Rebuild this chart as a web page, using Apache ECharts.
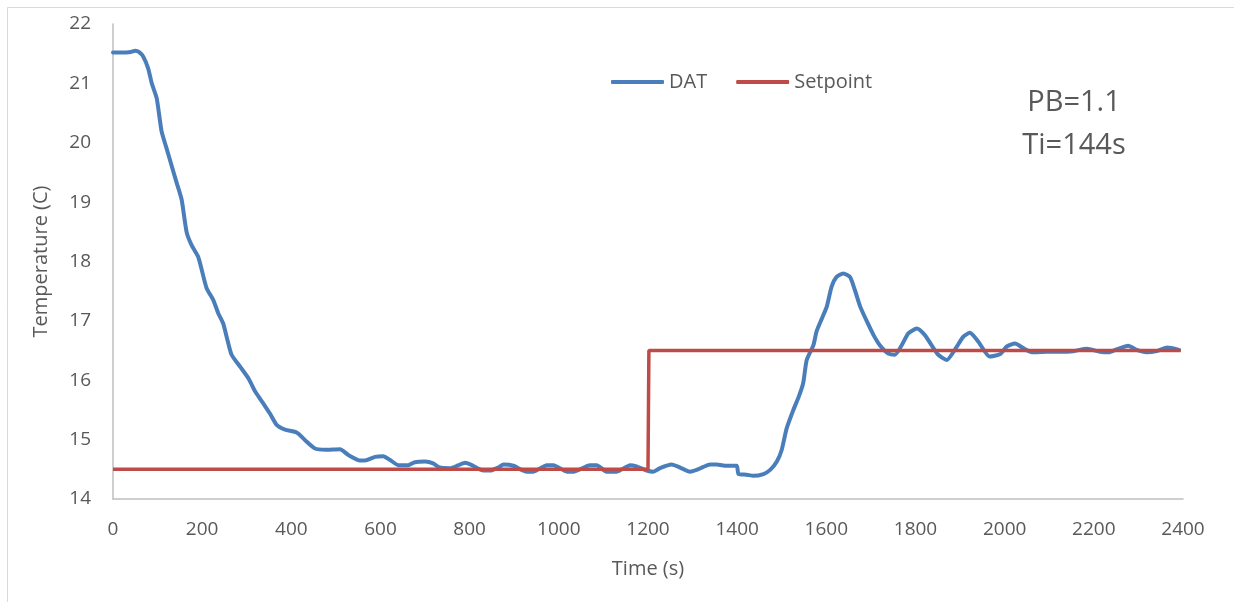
<!DOCTYPE html>
<html>
<head>
<meta charset="utf-8">
<title>DAT response</title>
<script src="https://cdn.jsdelivr.net/npm/echarts@6/dist/echarts.min.js"></script>
<style>
  html, body { margin: 0; padding: 0; background: #fff; }
  #chart { width: 1234px; height: 602px; }
</style>
</head>
<body>
<div id="chart"></div>
<script>
// Discharge air temperature trace (time in s, temperature in C)
const datTime = [0, 20, 40, 50, 58, 68, 79, 87, 98, 109, 120, 132, 143, 154, 165, 176, 191, 199, 210, 225,
  236, 247, 255, 266, 285, 304, 319, 337, 352, 367, 386, 412, 431, 453, 476, 509, 528, 554, 565, 588,
  606, 621, 640, 662, 677, 700, 718, 733, 756, 775, 790, 805, 831, 846, 864, 876, 898, 928, 943, 973,
  988, 1018, 1033, 1070, 1085, 1107, 1130, 1160, 1174, 1197, 1212, 1227, 1253, 1272, 1294, 1309, 1324, 1339, 1354, 1377,
  1399, 1403, 1421, 1436, 1459, 1474, 1489, 1500, 1511, 1526, 1538, 1548, 1556, 1571, 1578, 1590, 1601, 1612, 1623, 1638,
  1653, 1664, 1676, 1691, 1706, 1720, 1739, 1754, 1769, 1784, 1803, 1821, 1836, 1851, 1870, 1888, 1907, 1922, 1941, 1966,
  1990, 2005, 2023, 2046, 2064, 2094, 2124, 2154, 2184, 2214, 2233, 2251, 2277, 2296, 2318, 2341, 2365, 2391];
const datTemp = [21.52, 21.52, 21.53, 21.55, 21.53, 21.45, 21.25, 21.0, 20.75, 20.19, 19.91, 19.60, 19.32, 19.04, 18.50, 18.28, 18.08, 17.86, 17.55, 17.35,
  17.13, 16.96, 16.73, 16.43, 16.23, 16.03, 15.81, 15.61, 15.44, 15.25, 15.17, 15.12, 14.99, 14.85, 14.83, 14.84, 14.74, 14.65, 14.65, 14.71,
  14.72, 14.66, 14.57, 14.57, 14.62, 14.63, 14.60, 14.53, 14.52, 14.57, 14.61, 14.57, 14.48, 14.48, 14.53, 14.58, 14.56, 14.46, 14.46, 14.57,
  14.57, 14.46, 14.46, 14.57, 14.57, 14.46, 14.46, 14.57, 14.55, 14.48, 14.46, 14.52, 14.58, 14.53, 14.46, 14.49, 14.54, 14.58, 14.58, 14.56,
  14.56, 14.42, 14.41, 14.39, 14.42, 14.49, 14.63, 14.83, 15.19, 15.50, 15.72, 15.95, 16.34, 16.59, 16.82, 17.04, 17.24, 17.58, 17.74, 17.80,
  17.74, 17.52, 17.24, 16.99, 16.76, 16.59, 16.45, 16.43, 16.59, 16.79, 16.87, 16.76, 16.59, 16.43, 16.34, 16.51, 16.73, 16.80, 16.65, 16.40,
  16.44, 16.57, 16.62, 16.52, 16.47, 16.48, 16.48, 16.49, 16.53, 16.48, 16.47, 16.52, 16.58, 16.51, 16.47, 16.49, 16.55, 16.51];

// Setpoint schedule
const spTime = [0, 1200, 1202, 2395];
const spTemp = [14.5, 14.5, 16.5, 16.5];

// Controller tuning notes
const tuningLines = ['PB=1.1', 'Ti=144s'];

const zip = (xs, ys) => xs.map((x, i) => [x, ys[i]]);

const FONT = '"Open Sans", Lato, sans-serif';
const TXT = '#595959';
const AXIS = '#bfbfbf';

const chart = echarts.init(document.getElementById('chart'), null, { renderer: 'canvas' });

chart.setOption({
  animation: false,
  backgroundColor: '#fff',
  textStyle: { fontFamily: FONT, color: TXT },
  grid: { left: 113, right: 51, top: 24, bottom: 103, containLabel: false },
  legend: {
    left: 606,
    top: 67,
    itemWidth: 53,
    itemHeight: 4,
    itemGap: 29,
    icon: 'roundRect',
    textStyle: { fontFamily: FONT, fontSize: 20, color: TXT },
    data: ['DAT', 'Setpoint']
  },
  xAxis: {
    type: 'value',
    min: 0,
    max: 2400,
    interval: 200,
    name: 'Time (s)',
    nameLocation: 'middle',
    nameGap: 60,
    nameTextStyle: { fontFamily: FONT, fontSize: 20, color: TXT },
    axisLine: { lineStyle: { color: AXIS, width: 1.5 } },
    axisTick: { show: false },
    splitLine: { show: false },
    axisLabel: { fontFamily: FONT, fontSize: 19, color: TXT, margin: 21, formatter: v => String(v) }
  },
  yAxis: {
    type: 'value',
    min: 14,
    max: 22,
    interval: 1,
    name: 'Temperature (C)',
    nameLocation: 'middle',
    nameRotate: 90,
    nameGap: 62,
    nameTextStyle: { fontFamily: FONT, fontSize: 20, color: TXT },
    axisLine: { show: true, lineStyle: { color: AXIS, width: 1.5 } },
    axisTick: { show: false },
    splitLine: { show: false },
    axisLabel: { fontFamily: FONT, fontSize: 19, color: TXT, margin: 22, formatter: v => String(v) }
  },
  series: [
    {
      name: 'DAT',
      type: 'line',
      data: zip(datTime, datTemp),
      showSymbol: false,
      smooth: 0.2,
      color: '#4a7ebb',
      lineStyle: { width: 4, color: '#4a7ebb', cap: 'round', join: 'round' },
      z: 2
    },
    {
      name: 'Setpoint',
      type: 'line',
      data: zip(spTime, spTemp),
      showSymbol: false,
      color: '#be4b48',
      lineStyle: { width: 3.5, color: '#be4b48' },
      z: 3
    }
  ],
  graphic: [
    {
      type: 'rect',
      shape: { x: 7.5, y: 7.5, width: 1260, height: 640 },
      style: { fill: 'none', stroke: '#d9d9d9', lineWidth: 1 },
      silent: true
    },
    {
      type: 'text',
      x: 1074,
      y: 103,
      style: {
        text: tuningLines[0],
        fontFamily: FONT,
        fontSize: 29,
        fill: TXT,
        align: 'center',
        verticalAlign: 'middle'
      }
    },
    {
      type: 'text',
      x: 1074,
      y: 146,
      style: {
        text: tuningLines[1],
        fontFamily: FONT,
        fontSize: 29,
        fill: TXT,
        align: 'center',
        verticalAlign: 'middle'
      }
    }
  ]
});
</script>
</body>
</html>
